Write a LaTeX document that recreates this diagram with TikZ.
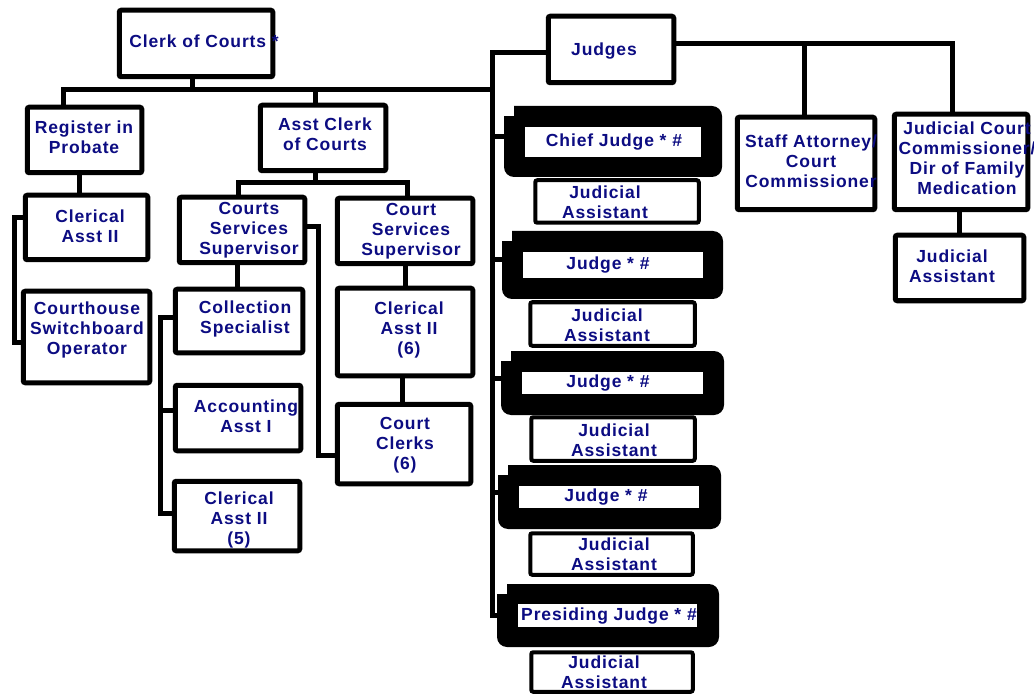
\documentclass[tikz,border=0pt]{standalone}
\usepackage{fontspec}
\newfontfamily\lblfont[LetterSpace=5.0]{Liberation Sans}
\usetikzlibrary{calc}
\definecolor{navytext}{RGB}{12,12,130}
\tikzset{
  box/.style={draw=black, line width=5pt, rounded corners=2pt, fill=white, inner sep=0pt},
  jabox/.style={box, line width=4pt},
  lbl/.style={text=navytext, font=\lblfont\bfseries\fontsize{17.5}{20}\selectfont, align=center, inner sep=0pt},
  conn/.style={draw=black, line width=5pt, line join=miter},
  judgeframe/.style={fill=black, rounded corners=10pt, inner sep=0pt},
}
% box by its outer corners: name, x1, y1, x2, y2
\newcommand\boxat[6][box]{%
  \node[#1, minimum width={#5pt-#3pt-4.5pt}, minimum height={#6pt-#4pt-4.5pt}] (#2) at ({(#3+#5)/2},{(#4+#6)/2}) {};}
% judge frame: name, outer x1 y1 x2 y2, inner x1 y1 x2 y2
\newcommand\judgeat[9]{%
  \node[judgeframe, minimum width={#4pt-#2pt}, minimum height={#5pt-#3pt}] (#1) at ({(#2+#4)/2},{(#3+#5)/2}) {};
  \fill[white] (#1.north west) rectangle ++(10,10);
  \fill[white] (#6,#7) rectangle (#8,#9);}
\begin{document}
\begin{tikzpicture}[x=1pt,y=-1pt]
\useasboundingbox (0,0) rectangle (1034,695);
\fill[white] (0,0) rectangle (1034,695);

% clerk side
\boxat{clerk}{117}{8}{275}{79}
\boxat{reg}{25}{105}{144}{175}
\boxat{asst}{258}{103}{388}{173}
\boxat{cler1}{23}{193}{150}{262}
\boxat{sw}{21}{289}{152}{385}
\boxat{css}{177}{195}{307}{265}
\boxat{csv2}{335}{196}{475}{266}
\boxat{coll}{173}{287}{305}{355}
\boxat{cler6}{335}{286}{475}{378}
\boxat{acct}{173}{383}{303}{453}
\boxat{cler5}{172}{479}{302}{553}
\boxat{clerks}{335}{402}{473}{486}

% judges side
\boxat{judges}{546}{14}{676}{85}
\boxat{staff}{735}{115}{877}{212}
\boxat{jcc}{892}{112}{1030}{212}
\boxat{jar}{893}{233}{1026}{303}

\judgeat{J1}{504}{106}{722}{177}{525}{127}{701}{157}
\judgeat{J2}{502}{231}{723}{299}{523}{252}{703}{278}
\judgeat{J3}{501}{351}{724}{415}{522}{372}{703}{394}
\judgeat{J4}{498}{465}{721}{529}{519}{486}{699}{508}
\judgeat{J5}{497}{584}{719}{647}{518}{604}{697}{627}

\boxat[jabox]{JA1}{533}{178}{701}{225}
\boxat[jabox]{JA2}{528}{300}{697}{348}
\boxat[jabox]{JA3}{529}{415}{697}{463}
\boxat[jabox]{JA4}{528}{531}{695}{577}
\boxat[jabox]{JA5}{529}{650}{695}{694}

% labels
\node[lbl] (tclerk) at (204,41) {Clerk of Courts *};
\node[lbl] (treg) at (84,137) {Register in\\Probate};
\node[lbl] (tasst) at (325,134) {Asst Clerk\\of Courts};
\node[lbl] (tcler1) at (90,226) {Clerical\\Asst II};
\node[lbl] (tsw) at (87,330) {Courthouse\\Switchboard\\Operator};
\node[lbl] (tcss) at (249,230) {Courts\\Services\\Supervisor};
\node[lbl] (tcsv2) at (411,231) {Court\\Services\\Supervisor};
\node[lbl] (tcoll) at (245,319) {Collection\\Specialist};
\node[lbl] (tcler6) at (409,330) {Clerical\\Asst II\\(6)};
\node[lbl] (tacct) at (246,416) {Accounting\\Asst I};
\node[lbl] (tcler5) at (239,520) {Clerical\\Asst II\\(5)};
\node[lbl] (tclerks) at (405,445) {Court\\Clerks\\(6)};
\node[lbl] (tjudges) at (604,51) {Judges};
\node[lbl] (tstaff) at (811,161) {Staff Attorney/\\Court\\Commissioner};
\node[lbl] (tjcc) at (967,158) {Judicial Court\\Commissioner/\\Dir of Family\\Medication};
\node[lbl] (tjar) at (952,266) {Judicial\\Assistant};
\node[lbl] (tJ1) at (614,142) {Chief Judge * \#};
\node[lbl] (tJ2) at (608,265) {Judge * \#};
\node[lbl] (tJ3) at (608,383) {Judge * \#};
\node[lbl] (tJ4) at (606,497) {Judge * \#};
\node[lbl] (tJ5) at (609,616) {Presiding Judge * \#};
\node[lbl] (tJA1) at (605,202) {Judicial\\Assistant};
\node[lbl] (tJA2) at (607,325) {Judicial\\Assistant};
\node[lbl] (tJA3) at (614,440) {Judicial\\Assistant};
\node[lbl] (tJA4) at (614,554) {Judicial\\Assistant};
\node[lbl] (tJA5) at (604,672) {Judicial\\Assistant};

% connector bends
\coordinate (t1) at (192,90);
\coordinate (t2) at (63,90);
\coordinate (t3) at (315,90);
\coordinate (trunk) at (492,90);
\coordinate (jtop) at (492,53);
\coordinate (jbot) at (492,615.5);
\coordinate (rb) at (952,44);
\coordinate (rm) at (804,44);
\coordinate (q) at (959,0);
\coordinate (r1) at (79,0);
\coordinate (b1) at (14,218);
\coordinate (b2) at (14,342);
\coordinate (a1) at (315,183);
\coordinate (aL) at (238,183);
\coordinate (aR) at (407,183);
\coordinate (c1) at (237,0);
\coordinate (d1) at (318,227);
\coordinate (d2) at (318,455);
\coordinate (e1) at (160,317);
\coordinate (e2) at (160,513);
\coordinate (e3) at (160,410);
\coordinate (f1) at (405,0);
\coordinate (f2) at (402,0);

% clerk of courts tree
\draw[conn] (t1 |- clerk.south) -- (t1);
\draw[conn] (t2 |- reg.north) -- (t2) -- (trunk);
\draw[conn] (t3) -- (t3 |- asst.north);
\draw[conn] (r1 |- reg.south) -- (r1 |- cler1.north);
\draw[conn] (b1 -| cler1.west) -- (b1) -- (b2) -- (b2 -| sw.west);
\draw[conn] (a1 |- asst.south) -- (a1);
\draw[conn] (aL |- css.north) -- (aL) -- (aR) -- (aR |- csv2.north);
\draw[conn] (c1 |- css.south) -- (c1 |- coll.north);
\draw[conn] (d1 -| css.east) -- (d1) -- (d2) -- (d2 -| clerks.west);
\draw[conn] (e1 -| coll.west) -- (e1) -- (e2) -- (e2 -| cler5.west);
\draw[conn] (e3) -- (e3 -| acct.west);
\draw[conn] (f1 |- csv2.south) -- (f1 |- cler6.north);
\draw[conn] (f2 |- cler6.south) -- (f2 |- clerks.north);

% judges tree
\draw[conn] (jtop -| judges.west) -- (jtop) -- (jbot) -- (J5.west);
\foreach \j in {J1,J2,J3,J4}
  \draw[conn] ($(\j.west)+(0,-5)$) coordinate (s) -- (s -| jtop);
\draw[conn] (judges.east |- rb) -- (rb) -- (rb |- jcc.north);
\draw[conn] (rm) -- (rm |- staff.north);
\draw[conn] (q |- jcc.south) -- (q |- jar.north);
\end{tikzpicture}
\end{document}
